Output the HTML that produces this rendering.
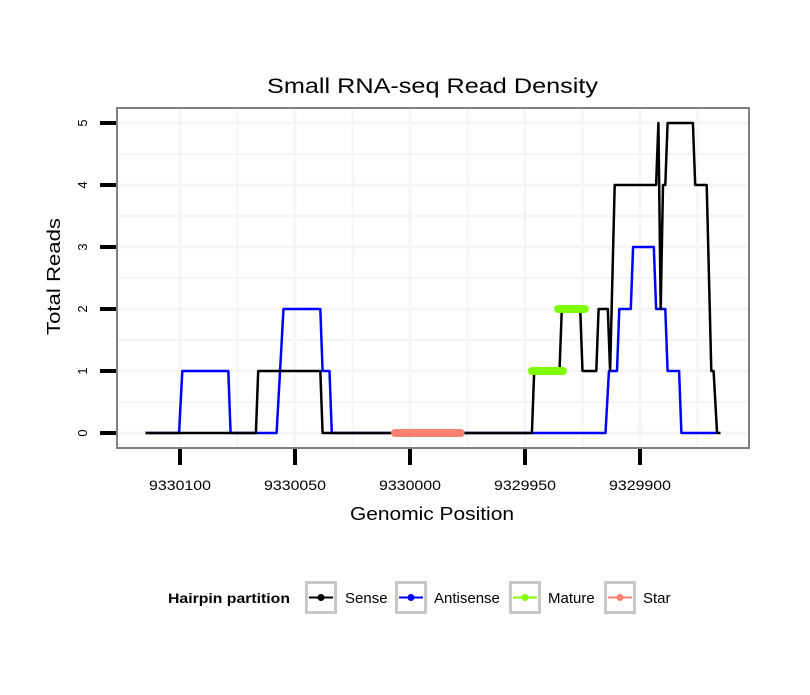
<!DOCTYPE html>
<html><head><meta charset="utf-8"><style>
body{margin:0;background:#fff}
svg text{font-family:"Liberation Sans",sans-serif}
</style></head><body>
<svg id="chart" width="810" height="690" xmlns="http://www.w3.org/2000/svg">
<rect width="810" height="690" fill="#fff"/>
<text x="267" y="93" font-size="21" textLength="331" lengthAdjust="spacingAndGlyphs">Small RNA-seq Read Density</text>
<g id="grid"></g>
<g id="series"></g>
<rect x="117" y="108" width="632" height="340" fill="none" stroke="#808080" stroke-width="2"/>
<g id="axes"></g>
<text x="350" y="520" font-size="18" textLength="164" lengthAdjust="spacingAndGlyphs">Genomic Position</text>
<text transform="translate(60,335) rotate(-90)" font-size="18" textLength="117" lengthAdjust="spacingAndGlyphs">Total Reads</text>
<g>
<text x="168" y="603" font-size="14" font-weight="bold" textLength="122" lengthAdjust="spacingAndGlyphs">Hairpin partition</text>
<g id="legend"></g>
</g>
</svg>
<script>
const xTicks = [9330100, 9330050, 9330000, 9329950, 9329900];
const xMinor = [9330075, 9330025, 9329975, 9329925, 9329875];
const yTicks = [0, 1, 2, 3, 4, 5];
const senseX = [9330115,9330067,9330066,9330039,9330038,9329947,9329946,9329935,9329934,9329926,9329925,9329919,9329918,9329914,9329913,9329911,9329893,9329892,9329891,9329890,9329889,9329888,9329877,9329876,9329871,9329869,9329868,9329866.5,9329865];
const senseY = [0,0,1,1,0,0,1,1,2,2,1,1,2,2,1,4,4,5,2,4,4,5,5,4,4,1,1,0,0];
const antiX = [9330115,9330100.4,9330099,9330079,9330078,9330058,9330055,9330039,9330038,9330035,9330034,9329915,9329913.5,9329910,9329909,9329904,9329903,9329894,9329893,9329889,9329888,9329883,9329882,9329867];
const antiY = [0,0,1,1,0,0,2,2,1,1,0,0,1,1,2,2,3,3,2,2,1,1,0,0];
const matureSegs = [[9329947,9329933.5,1],[9329935.6,9329924,2]];
const starSegs = [[9330006.5,9329978,0]];
const legendLabels = ["Sense","Antisense","Mature","Star"];
const legendColors = ["#000","#0000ff","#7fff00","#fa8072"];

const NS="http://www.w3.org/2000/svg";
function X(p){return 180+(9330100-p)*2.3;}
function Y(v){return 433-v*62;}
function mk(t,a,parent){const e=document.createElementNS(NS,t);for(const k in a)e.setAttribute(k,a[k]);parent.appendChild(e);return e;}
const grid=document.getElementById('grid'),ser=document.getElementById('series'),ax=document.getElementById('axes'),lg=document.getElementById('legend');
xMinor.forEach(p=>{const l=mk('line',{x1:X(p),x2:X(p),y1:108,y2:448,stroke:'#f5f5f5','stroke-width':2},grid);

});
yTicks.forEach(v=>{if(v<5){const l=mk('line',{x1:117,x2:749,y1:Y(v+0.5),y2:Y(v+0.5),stroke:'#f5f5f5','stroke-width':2},grid);

}});
xTicks.forEach(p=>{const l=mk('line',{x1:X(p),x2:X(p),y1:108,y2:448,stroke:'#f5f5f5','stroke-width':3},grid);


const t=mk('line',{x1:X(p),x2:X(p),y1:449,y2:465,stroke:'#000','stroke-width':4},ax);


const tx=mk('text',{x:X(p)-31,y:490,'font-size':14,textLength:62,lengthAdjust:'spacingAndGlyphs'},ax);tx.textContent=p;

});
yTicks.forEach(v=>{const l=mk('line',{x1:117,x2:749,y1:Y(v),y2:Y(v),stroke:'#f5f5f5','stroke-width':3},grid);


const t=mk('line',{x1:100,x2:116,y1:Y(v),y2:Y(v),stroke:'#000','stroke-width':4},ax);


const tx=mk('text',{transform:`translate(87,${Y(v)}) rotate(-90)`,'text-anchor':'middle','font-size':13},ax);tx.textContent=v;

});
function line(xs,ys,c,name){const pts=xs.map((p,i)=>X(p)+','+Y(ys[i])).join(' ');
const e=mk('polyline',{points:pts,fill:'none',stroke:c,'stroke-width':2.5,'stroke-linejoin':'round'},ser);

}
line(antiX,antiY,'#0000ff','antisense-line');
line(senseX,senseY,'#000','sense-line');
function segs(arr,c,name){arr.forEach(s=>{const e=mk('line',{x1:X(s[0]),x2:X(s[1]),y1:Y(s[2]),y2:Y(s[2]),stroke:c,'stroke-width':8,'stroke-linecap':'round'},ser);

});}
segs(matureSegs,'#7fff00','mature-segment');
segs(starSegs,'#fa8072','star-segment');
const boxX=[305,395,509,604],txtX=[345,434,548,643];
legendLabels.forEach((lab,i)=>{const g=mk('g',{},lg);


mk('rect',{x:boxX[i]+1.5,y:582.5,width:29,height:30,fill:'#fff',stroke:'#c8c8c8','stroke-width':3},g);
mk('line',{x1:boxX[i]+4,x2:boxX[i]+28,y1:597.5,y2:597.5,stroke:legendColors[i],'stroke-width':2},g);
mk('circle',{cx:boxX[i]+16,cy:597.5,r:3.5,fill:legendColors[i]},g);
const t=mk('text',{x:txtX[i],y:603,'font-size':15},g);t.textContent=lab;});
</script>
</body></html>
